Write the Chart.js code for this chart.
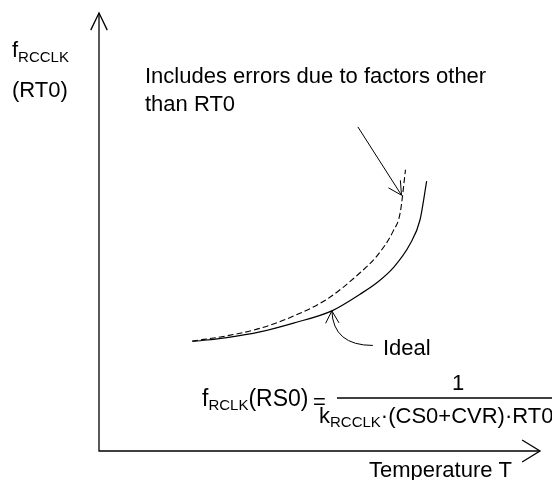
<!DOCTYPE html>
<html>
<head>
<meta charset="utf-8">
<script src="https://cdn.jsdelivr.net/npm/chart.js@4"></script>
<style>
  html, body { margin: 0; padding: 0; background: #fff; }
  canvas { display: block; }
</style>
</head>
<body>
<canvas id="c" width="552" height="480"></canvas>
<script>
// Data (arbitrary units: temperature T vs. f_RCCLK)
const T_IDEAL = [21.2, 29.0, 36.5, 44.1, 52.8, 59.2, 63.0, 66.7, 70.5, 72.8, 74.3];
const F_IDEAL = [25.0, 25.9, 27.2, 29.2, 32.0, 35.8, 38.4, 41.8, 47.2, 52.8, 61.6];
const T_ERR   = [21.1, 29.0, 36.5, 44.1, 51.6, 59.2, 63.0, 66.7, 68.3, 69.5];
const F_ERR   = [25.1, 26.3, 28.0, 30.8, 34.6, 40.7, 44.5, 50.2, 54.4, 64.2];
const AXIS_MIN = 0, AXIS_MAX = 100;

const toPts = (xs, ys) => xs.map((v, i) => ({ x: v, y: ys[i] }));
const FONT = "Arial, 'Liberation Sans', sans-serif";

function arrowHead(ctx, tx, ty, dirAngle, len, spread) {
  const back = dirAngle + Math.PI;
  ctx.beginPath();
  ctx.moveTo(tx + len * Math.cos(back - spread), ty + len * Math.sin(back - spread));
  ctx.lineTo(tx, ty);
  ctx.lineTo(tx + len * Math.cos(back + spread), ty + len * Math.sin(back + spread));
  ctx.stroke();
}

function textSub(ctx, x, y, main, sub, size, subSize, subDrop) {
  ctx.font = size + "px " + FONT;
  ctx.fillText(main, x, y);
  let w = ctx.measureText(main).width;
  ctx.font = subSize + "px " + FONT;
  ctx.fillText(sub, x + w, y + subDrop);
  w += ctx.measureText(sub).width;
  return x + w;
}

const decor = {
  id: 'decor',
  beforeDraw(chart) {
    const ctx = chart.ctx;
    ctx.save();
    ctx.fillStyle = '#fff';
    ctx.fillRect(0, 0, chart.width, chart.height);
    ctx.restore();
  },
  afterDraw(chart) {
    const { ctx, chartArea: a, scales: { x, y } } = chart;
    const X = v => x.getPixelForValue(v), Y = v => y.getPixelForValue(v);
    ctx.save();
    ctx.strokeStyle = '#000';
    ctx.fillStyle = '#000';
    ctx.lineWidth = 1.3;
    // axes
    ctx.beginPath();
    ctx.moveTo(a.left, a.top);
    ctx.lineTo(a.left, a.bottom);
    ctx.lineTo(a.right, a.bottom);
    ctx.stroke();
    arrowHead(ctx, a.left, a.top, -Math.PI / 2, 19, 0.45);
    arrowHead(ctx, a.right, a.bottom, 0, 21, 0.55);

    ctx.lineWidth = 1;
    // error arrow
    const sx = X(58.7), sy = Y(74.0), tx = X(68.6), ty = Y(58.4);
    ctx.beginPath(); ctx.moveTo(sx, sy); ctx.lineTo(tx, ty); ctx.stroke();
    arrowHead(ctx, tx, ty, Math.atan2(ty - sy, tx - sx), 15, 0.49);

    // ideal leader
    const lx = X(62.1), ly = Y(24.1), cx = X(53.1), cy = Y(24.1), ix = X(52.8), iy = Y(32.0);
    ctx.beginPath(); ctx.moveTo(lx, ly); ctx.quadraticCurveTo(cx, cy, ix, iy); ctx.stroke();
    arrowHead(ctx, ix, iy, Math.atan2(iy - cy, ix - cx), 14, 0.5);

    // texts
    ctx.textBaseline = 'alphabetic';
    textSub(ctx, 12, 57, 'f', 'RCCLK', 22, 15, 5);
    ctx.font = '22px ' + FONT;
    ctx.fillText('(RT0)', 12, 97);
    ctx.fillText('Includes errors due to factors other', 145, 83);
    ctx.fillText('than RT0', 145, 111);
    ctx.fillText('Ideal', 383, 355);
    ctx.fillText('Temperature T', 369, 477);

    // formula
    let ex = textSub(ctx, 202, 406, 'f', 'RCLK', 23, 15, 4);
    ctx.font = '23px ' + FONT;
    ctx.fillText('(RS0)', ex, 406);
    ctx.font = '22px ' + FONT;
    ctx.fillText('=', 313, 409);
    ctx.lineWidth = 1.3;
    ctx.beginPath(); ctx.moveTo(337, 398); ctx.lineTo(552, 398); ctx.stroke();
    ctx.textAlign = 'center';
    ctx.fillText('1', 458, 390);
    ctx.textAlign = 'left';
    let dx = textSub(ctx, 319, 423, 'k', 'RCCLK', 22, 15, 4);
    ctx.font = '22px ' + FONT;
    ctx.fillText('\u00B7(CS0+CVR)\u00B7RT0', dx, 423);
    ctx.restore();
  }
};

new Chart(document.getElementById('c'), {
  type: 'scatter',
  data: {
    datasets: [
      {
        label: 'Ideal',
        data: toPts(T_IDEAL, F_IDEAL),
        showLine: true,
        borderColor: '#000',
        borderWidth: 1.2,
        pointRadius: 0,
        cubicInterpolationMode: 'monotone',
        fill: false
      },
      {
        label: 'Includes errors due to factors other than RT0',
        data: toPts(T_ERR, F_ERR),
        showLine: true,
        borderColor: '#000',
        borderWidth: 1.1,
        borderDash: [6, 3],
        pointRadius: 0,
        cubicInterpolationMode: 'monotone',
        fill: false
      }
    ]
  },
  options: {
    responsive: false,
    animation: false,
    layout: { padding: { left: 99, top: 13, right: 12, bottom: 29 } },
    plugins: { legend: { display: false }, tooltip: { enabled: false } },
    scales: {
      x: { type: 'linear', min: AXIS_MIN, max: AXIS_MAX, display: false },
      y: { type: 'linear', min: AXIS_MIN, max: AXIS_MAX, display: false }
    }
  },
  plugins: [decor]
});
</script>
</body>
</html>
